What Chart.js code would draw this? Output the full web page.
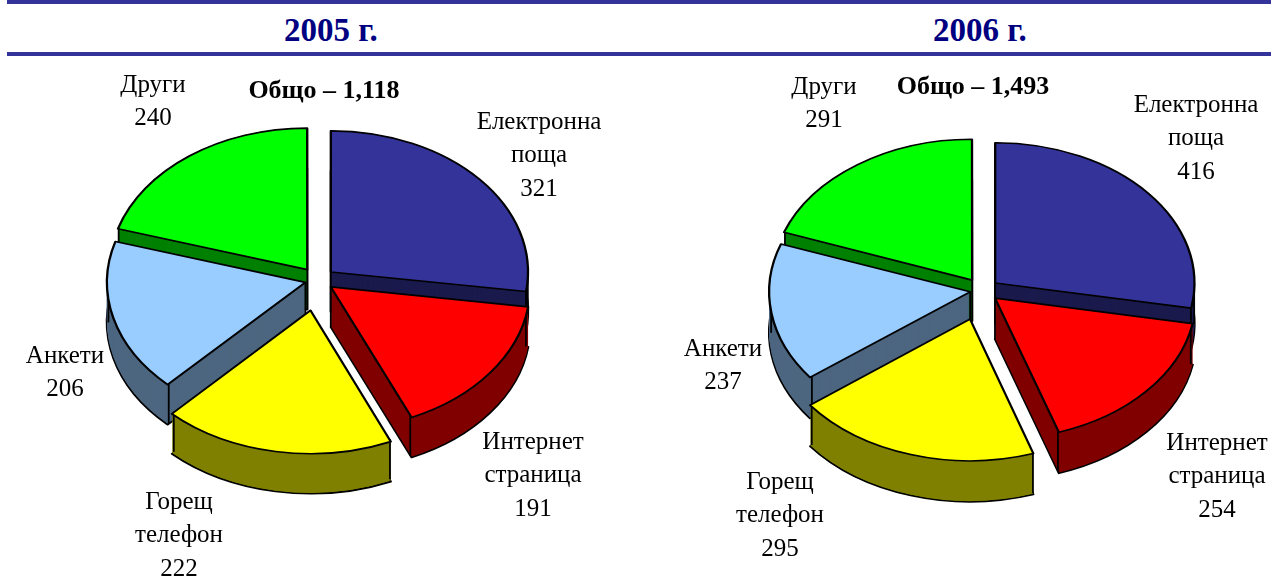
<!DOCTYPE html>
<html lang="bg">
<head>
  <meta charset="UTF-8" />
  <title>2005 - 2006</title>
  <script src="https://cdn.jsdelivr.net/npm/chart.js"></script>
  <style>
    html, body { margin: 0; padding: 0; background: #fff; overflow: hidden; width: 1271px; height: 578px; }
    .bar { position: absolute; left: 7px; right: 0; height: 4px; background: #333399; }
    .year {
      position: absolute; top: 10px; width: 200px; text-align: center;
      font: bold 33px "Liberation Serif", serif; line-height: 40px; color: #000080;
    }
    canvas { position: absolute; top: 0; }
  </style>
</head>
<body>
  <div class="bar" style="top:0"></div>
  <div class="bar" style="top:52px"></div>
  <div class="year" style="left:231px">2005 г.</div>
  <div class="year" style="left:880px">2006 г.</div>
  <canvas id="pie2005" width="636" height="578" style="left:0"></canvas>
  <canvas id="pie2006" width="635" height="578" style="left:636px"></canvas>

  <script>
    const categories = [['Електронна', 'поща'], ['Интернет', 'страница'], ['Горещ', 'телефон'], ['Анкети'], ['Други']];
    const values2005 = [321, 191, 222, 206, 240];
    const values2006 = [416, 254, 295, 237, 291];
    const total2005 = 'Общо – 1,118';
    const total2006 = 'Общо – 1,493';

    const topColors = ['#333399', '#ff0000', '#ffff00', '#99ccff', '#00ff00'];
    const wallColors = ['#1a1a4d', '#800000', '#808000', '#4d6680', '#008000'];
    // painter's order, back slices first
    const drawOrder = [4, 0, 3, 1, 2];

    function pieChart(id, values, total, cfg) {
      const tilted = (ctx, chart, dy, fn) => {
        const a = chart.getDatasetMeta(0).data[0];
        ctx.save();
        ctx.translate(a.x, a.y + dy);
        ctx.scale(1, cfg.ratio);
        ctx.translate(-a.x, -a.y);
        fn();
        ctx.restore();
      };

      const pie3d = {
        id: 'pie3d',
        beforeDatasetsDraw(chart) {
          const ctx = chart.ctx;
          const arcs = chart.getDatasetMeta(0).data;
          drawOrder.forEach(i => {
            const arc = arcs[i];
            const opts = arc.options;
            const base = { offset: opts.offset, spacing: 0, circular: true, borderAlign: 'center', borderWidth: 0,
              borderColor: '#000', borderJoinStyle: 'round', borderDash: [], borderDashOffset: 0, borderRadius: 0, backgroundColor: wallColors[i] };

            // side wall: outlined bottom, then fill layers stacked upwards
            arc.options = { ...base, borderWidth: cfg.line };
            tilted(ctx, chart, cfg.depth, () => arc.draw(ctx));
            arc.options = base;
            for (let dy = cfg.depth - 1; dy >= 0; dy--) {
              tilted(ctx, chart, dy, () => arc.draw(ctx));
            }

            // vertical edges at the apex, the two outer corners and any side tangent
            const half = (arc.startAngle + arc.endAngle) / 2;
            const shift = opts.offset / 4;
            const px = arc.x + Math.cos(half) * shift;
            const py = arc.y + Math.sin(half) * shift;
            const edges = [[px, py]];
            const angles = [arc.startAngle, arc.endAngle];
            [0, Math.PI, 2 * Math.PI, -Math.PI].forEach(t => {
              if (t > arc.startAngle && t < arc.endAngle) angles.push(t);
            });
            angles.forEach(t => edges.push([px + Math.cos(t) * arc.outerRadius, py + Math.sin(t) * arc.outerRadius]));
            ctx.save();
            ctx.strokeStyle = '#000';
            ctx.lineWidth = cfg.line - 0.5;
            edges.forEach(([x, y]) => {
              const sy = arc.y + (y - arc.y) * cfg.ratio;
              ctx.beginPath();
              ctx.moveTo(x, sy);
              ctx.lineTo(x, sy + cfg.depth);
              ctx.stroke();
            });
            ctx.restore();

            // top face
            arc.options = { ...base, borderWidth: cfg.line, backgroundColor: topColors[i] };
            tilted(ctx, chart, 0, () => arc.draw(ctx));
            arc.options = opts;
          });
          return false;
        },
        // returning false above also skips afterDatasetsDraw, so labels go here
        afterDraw(chart) {
          const ctx = chart.ctx;
          ctx.save();
          ctx.fillStyle = '#000';
          ctx.textAlign = 'center';
          ctx.textBaseline = 'middle';
          ctx.font = '25px "Liberation Serif", serif';
          categories.forEach((lines, i) => {
            const [x, y] = cfg.labelAt[i];
            [...lines, String(values[i])].forEach((t, n) => ctx.fillText(t, x, y + n * 33.5));
          });
          ctx.font = 'bold 26px "Liberation Serif", serif';
          ctx.fillText(total, cfg.totalAt[0], cfg.totalAt[1]);
          ctx.restore();
        }
      };

      return new Chart(document.getElementById(id), {
        type: 'pie',
        data: {
          labels: categories.map(l => l.join(' ')),
          datasets: [{ data: values, backgroundColor: topColors, offset: cfg.offsets }]
        },
        options: {
          responsive: false,
          animation: false,
          radius: cfg.radius,
          layout: { padding: cfg.padding },
          plugins: { legend: { display: false }, tooltip: { enabled: false } }
        },
        plugins: [pie3d]
      });
    }

    pieChart('pie2005', values2005, total2005, {
      radius: 197, ratio: 0.716, depth: 40, line: 2.3,
      offsets: [68, 64, 172, 52, 72],
      padding: { bottom: 18 },
      labelAt: [[539, 122], [533, 442], [179, 502], [65, 356], [153, 85]],
      totalAt: [324, 91]
    });

    pieChart('pie2006', values2006, total2006, {
      radius: 199, ratio: 0.704, depth: 41, line: 2.3,
      offsets: [66, 66, 170, 50, 72],
      padding: { left: 58, top: 3 },
      labelAt: [[560, 105], [581, 443], [144, 482], [87, 349], [188, 87]],
      totalAt: [337, 87]
    });
  </script>
</body>
</html>
